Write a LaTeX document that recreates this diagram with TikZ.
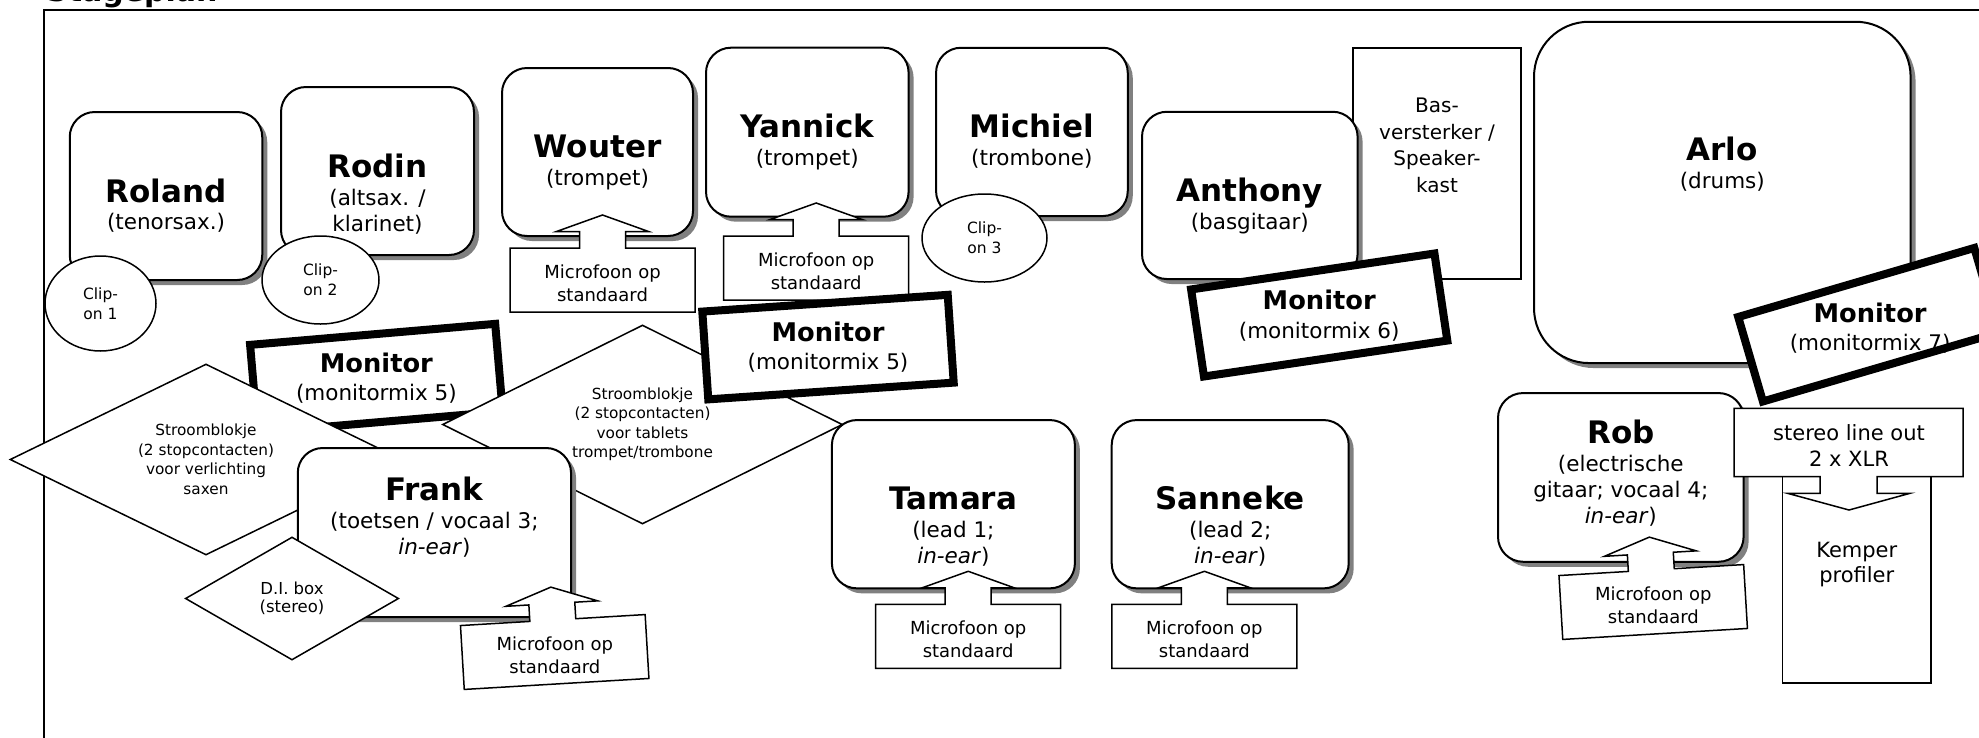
\documentclass[tikz,border=0pt]{standalone}
\usepackage{fontspec}
\setmainfont{DejaVu Sans}
\usetikzlibrary{positioning,shapes.geometric,shadows}

\newcommand{\pname}[1]{{\fontsize{31}{31}\selectfont\bfseries\rule{0pt}{25pt}#1}\\[1.6pt]}
\newcommand{\mname}{{\fontsize{25.7}{25.7}\selectfont\bfseries\rule{0pt}{20pt}Monitor}\\[2.5pt]}

\begin{document}
\begin{tikzpicture}[x=1pt, y=-1pt,
    person/.style = {draw, line width=2pt, fill=white, rounded corners=25pt,
      drop shadow={shadow xshift=5pt, shadow yshift=-5pt, fill=gray, opacity=1}},
    ptext/.style = {align=center, inner sep=0pt, font=\fontsize{21.5}{26}\selectfont},
    monitor/.style = {draw, line width=8pt, fill=white, minimum width=246pt, minimum height=88pt, inner sep=0pt},
    mtext/.style = {align=center, inner sep=0pt, anchor=north, font=\fontsize{21.5}{26}\selectfont},
    clipon/.style = {draw, ellipse, line width=1.5pt, fill=white, inner sep=0pt, align=center, font=\fontsize{15.5}{20}\selectfont},
    stroom/.style = {draw, diamond, aspect=2, line width=1.5pt, fill=white, inner sep=0pt, align=center, font=\fontsize{15.3}{19.5}\selectfont},
    gear/.style = {draw, line width=1.5pt, fill=white, inner sep=0pt},
    gtext/.style = {align=center, inner sep=0pt, font=\fontsize{21}{26}\selectfont},
    micline/.style = {draw, line width=1.5pt, fill=white},
    mictext/.style = {align=center, inner sep=0pt, font=\fontsize{18}{23}\selectfont},
    mic/.pic = {
      \draw[micline] (-92.5,32) -- (-92.5,-32) -- (-23,-32) -- (-23,-48.5) -- (-46,-48.5) -- (0,-65)
        -- (46,-48.5) -- (23,-48.5) -- (23,-32) -- (92.5,-32) -- (92.5,32) -- cycle;
      \node[mictext] (-txt) at (0,3) {Microfoon op\\standaard};
    }]
    \useasboundingbox (0,0) rectangle (1979,737);
    \draw[line width=2pt] (44,9.5) rectangle (2100,800);
    \node[inner sep=0pt, anchor=base west, font=\fontsize{30}{30}\selectfont\bfseries] (title) at (46,1.5) {Stageplan};

    \node[gear, minimum width=168pt, minimum height=231pt] (basamp) at (1437,163.3) {};
    \node[gtext, font=\fontsize{20}{26.5}\selectfont] (basamp-t) [below=51pt of basamp.north] {Bas-\\versterker /\\Speaker-\\kast};

    \node[person, minimum width=192.5pt, minimum height=168pt] (roland) at (166,196) {};
    \node[ptext] (roland-t) [below=66pt of roland.north] {\pname{Roland}(tenorsax.)};
    \node[person, minimum width=193pt, minimum height=168pt] (rodin) at (377.5,171) {};
    \node[ptext] (rodin-t) [below=66.3pt of rodin.north] {\pname{Rodin}(altsax. /\\klarinet)};
    \node[person, minimum width=191pt, minimum height=168pt] (wouter) at (597.5,152) {};
    \node[ptext] (wouter-t) [below=65.3pt of wouter.north] {\pname{Wouter}(trompet)};
    \node[person, minimum width=202.6pt, minimum height=169pt] (yannick) at (807.3,132.2) {};
    \node[ptext] (yannick-t) [below=65.6pt of yannick.north] {\pname{Yannick}(trompet)};
    \node[person, minimum width=191.7pt, minimum height=168.3pt] (michiel) at (1031.9,131.9) {};
    \node[ptext] (michiel-t) [below=65.6pt of michiel.north] {\pname{Michiel}(trombone)};
    \node[person, minimum width=215.6pt, minimum height=167.3pt] (anthony) at (1249.8,195.4) {};
    \node[ptext] (anthony-t) [below=65.6pt of anthony.north] {\pname{Anthony}(basgitaar)};
    \node[person, rounded corners=55pt, minimum width=376.6pt, minimum height=341.3pt] (arlo) at (1722.3,192.4) {};
    \node[ptext] (arlo-t) [below=114.6pt of arlo.north] {\pname{Arlo}(drums)};

    \node[clipon, minimum width=111pt, minimum height=95pt] (clip1) at (100.5,303.5) {Clip-\\on 1};
    \node[clipon, minimum width=117pt, minimum height=88pt] (clip2) at (320.5,280) {Clip-\\on 2};
    \node[clipon, minimum width=125pt, minimum height=88pt] (clip3) at (984.5,238) {Clip-\\on 3};

    \pic (woutermic) at (602.5,280) {mic};
    \pic (yannickmic) at (816.2,268) {mic};

    \node[monitor, rotate=4.9] (mon5a) at (376.4,378.2) {};
    \node[mtext] (mon5a-t) at ([yshift=26pt]mon5a.center) {\mname(monitormix 5)};

    \node[stroom, aspect=2.05, minimum width=392pt, minimum height=191pt] (stroomL) at (206,459.5) {Stroomblokje\\(2 stopcontacten)\\voor verlichting\\saxen};
    \node[stroom, minimum width=400pt, minimum height=199pt] (stroomR) at (642.5,424.5) {Stroomblokje\\(2 stopcontacten)\\voor tablets\\trompet/trombone};

    \node[monitor, rotate=3.9] (mon5b) at (828,347.1) {};
    \node[mtext] (mon5b-t) at ([yshift=26pt]mon5b.center) {\mname(monitormix 5)};
    \node[monitor, rotate=8.4] (mon6) at (1319.2,315) {};
    \node[mtext] (mon6-t) at ([yshift=25.6pt]mon6.center) {\mname(monitormix 6)};

    \node[person, minimum width=273.3pt, minimum height=169pt] (frank) at (434.4,532.5) {};
    \node[ptext] (frank-t) [below=28.3pt of frank.north] {\pname{Frank}(toetsen / vocaal 3;\\\textit{in-ear})};
    \node[stroom, aspect=1.74, minimum width=213.4pt, minimum height=123pt, font=\fontsize{16.5}{18.5}\selectfont] (dibox) at (292,598.5) {D.I. box\\(stereo)};
    \pic[rotate=3.4] (frankmic) at (554.7,652) {mic};

    \node[person, minimum width=243pt, minimum height=168.3pt] (tamara) at (953.4,504.2) {};
    \node[ptext] (tamara-t) [below=65.6pt of tamara.north] {\pname{Tamara}(lead 1;\\\textit{in-ear})};
    \pic (tamaramic) at (968.2,636.3) {mic};
    \node[person, minimum width=237pt, minimum height=168.3pt] (sanneke) at (1230.2,504.2) {};
    \node[ptext] (sanneke-t) [below=65.6pt of sanneke.north] {\pname{Sanneke}(lead 2;\\\textit{in-ear})};
    \pic (sannekemic) at (1204.4,636.3) {mic};

    \node[person, minimum width=245.6pt, minimum height=168.7pt] (rob) at (1620.8,477.4) {};
    \node[ptext] (rob-t) [below=26.3pt of rob.north] {\pname{Rob}(electrische\\gitaar; vocaal 4;\\\textit{in-ear})};
    \pic[rotate=3.4] (robmic) at (1653.2,602) {mic};

    \node[gear, minimum width=148.5pt, minimum height=206.3pt] (kemper) at (1856.75,579.85) {};
    \node[gtext, font=\fontsize{21}{25}\selectfont] (kemper-t) [below=66.5pt of kemper.north] {Kemper\\profiler};
    \draw[micline] (1734,408.3) -- (1963,408.3) -- (1963,476.7) -- (1877,476.7) -- (1877,493.3) -- (1910,493.3)
      -- (1849,510) -- (1787.5,493.3) -- (1820,493.3) -- (1820,476.7) -- (1734,476.7) -- cycle;
    \node[gtext, anchor=north] (stereo) at (1849,424.3) {stereo line out\\2 x XLR};

    \node[monitor, rotate=16.3] (mon7) at (1868.6,324.7) {};
    \node[mtext] (mon7-t) at ([xshift=1.5pt,yshift=22.6pt]mon7.center) {\mname(monitormix 7)};
\end{tikzpicture}
\end{document}
